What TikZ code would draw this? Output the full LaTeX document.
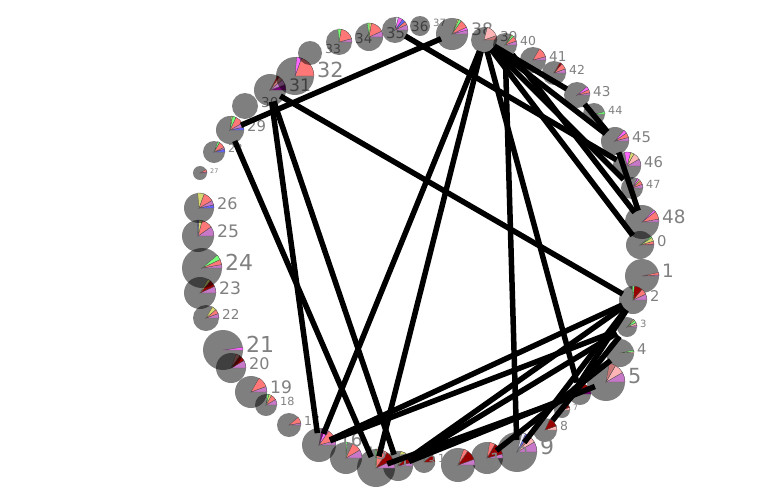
\documentclass[tikz,border=0pt]{standalone}
\usepackage{fontspec}
\setmainfont{DejaVu Sans}
\usetikzlibrary{calc}

\definecolor{wr}{HTML}{FF7777}
\definecolor{wv}{HTML}{C878C8}
\definecolor{wm}{HTML}{FF66FF}
\definecolor{wg}{HTML}{77FF77}
\definecolor{wy}{HTML}{D8D870}
\definecolor{wb}{HTML}{6666FF}
\definecolor{wd}{HTML}{990000}
\definecolor{ws}{HTML}{FFB5B5}
\definecolor{wk}{HTML}{C87878}
\definecolor{wp}{HTML}{770077}
\definecolor{ww}{HTML}{EEEEFF}

\tikzset{
  ring/.style={fill=black, fill opacity=0.5},
  wedge/.style={draw=black!70, line width=0.3pt},
  lbl/.style={text=black!50, inner sep=0pt, anchor=west},
  link/.style={line width=5.5pt, shorten <=12pt, shorten >=12pt},
}

% grey disc with pie slices and its number
\newcommand\pienode[5]{%
  \coordinate (n#1) at (#2,-#3);
  \fill[ring] (n#1) circle (#4);
  \foreach \a/\b/\c in {#5}{\filldraw[wedge, fill=\c] (n#1) -- ++(\a:#4) arc (\a:\b:#4) -- cycle;}
  \pgfmathsetmacro\fs{1.2*#4-2}
  \node[lbl, font=\fontsize{\fs}{\fs}\selectfont] (l#1) at ($(n#1)+(#4+3,0.3*#4)$) {#1};
}
\newcommand\plainnode[4]{%
  \coordinate (n#1) at (#2,-#3);
  \fill[ring] (n#1) circle (#4);
  \pgfmathsetmacro\fs{1.2*#4-2}
  \node[lbl, font=\fontsize{\fs}{\fs}\selectfont] (l#1) at ($(n#1)+(#4+3,0.3*#4)$) {#1};
}

\begin{document}
\begin{tikzpicture}[x=1pt, y=1pt]
\useasboundingbox (0,0) rectangle (764,-491);

\pienode{0}{640}{245}{14}{0/4/wv, 4/16/wr, 16/32/wy, 32/38/wg}
\pienode{1}{642}{276}{17}{0/4/wv, 4/12/wr}
\pienode{2}{633}{300}{14}{0/25/wv, 25/50/wr, 50/85/wd, 85/93/wg}
\pienode{3}{627}{327}{10}{0/10/wv, 10/25/ws, 25/42/wg, 42/50/wy}
\pienode{4}{620}{353}{14}{0/5/ws, 5/12/wg}
\pienode{5}{606}{382}{19}{0/30/wv, 30/60/ws, 60/80/wk}
\pienode{6}{580}{394}{11}{0/30/wp, 30/75/wd, 75/90/wm}
\pienode{7}{562}{410}{8}{0/20/ws, 20/70/wd}
\pienode{8}{545}{430}{12}{0/20/ws, 20/65/wd}
\pienode{9}{517}{452}{20}{0/30/wv, 30/45/ws, 45/55/wk, 55/65/wb, 65/75/ww}
\pienode{10}{487}{458}{16}{0/15/wv, 15/60/wd, 60/80/wr}
\pienode{11}{458}{465}{17}{0/20/wv, 20/55/wd, 55/70/wr}
\pienode{12}{424}{462}{11}{0/40/wd, 80/90/wg}
\pienode{13}{398}{466}{15}{0/15/wv, 15/45/wd, 60/80/wy}
\pienode{14}{376}{468}{19}{0/25/wv, 25/55/wd, 55/88/wr, 88/92/wg}
\pienode{15}{346}{458}{16}{0/30/wv, 30/65/wr, 85/90/wg}
\pienode{16}{319}{445}{17}{0/15/wv, 15/55/wr, 55/70/wm, 70/80/wp}
\pienode{17}{289}{425}{12}{0/10/wv, 10/40/wr}
\pienode{18}{266}{405}{11}{0/30/wv, 30/60/wr, 60/75/wy, 75/85/wg}
\pienode{19}{251}{392}{16}{0/20/wv, 20/60/wr}
\pienode{20}{231}{368}{15}{0/30/wv, 30/55/wd, 55/70/wk}
\pienode{21}{223}{350}{20}{0/8/wm}
\pienode{22}{206}{318}{13}{0/20/wv, 20/40/wr, 40/60/wy}
\pienode{23}{200}{293}{16}{0/25/wv, 25/50/wd, 50/60/wy}
\pienode{24}{202}{268}{20}{0/10/wv, 10/25/wr, 25/40/wg}
\pienode{25}{198}{236}{16}{0/35/wv, 35/75/wr, 75/88/wy, 88/92/wb}
\pienode{26}{199}{208}{15}{0/12/wb, 12/30/wv, 30/70/wr, 70/95/wy}
\pienode{27}{200}{173}{7}{0/10/wv, 10/30/wr}
\pienode{28}{214}{152}{11}{0/15/wb, 15/25/wv, 25/60/wr, 60/70/wg}
\pienode{29}{230}{130}{14}{0/12/wb, 12/30/wv, 30/65/wr, 65/80/wg, 80/85/wy}
\plainnode{30}{245}{106}{13}
\pienode{31}{270}{90}{16}{0/20/wp, 20/40/wv, 40/55/wk, 55/62/wd}
\pienode{32}{295}{76}{19}{0/70/wr, 70/85/wm}
\plainnode{33}{310}{53}{12}
\pienode{34}{339}{42}{13}{0/15/wv, 15/80/wr, 80/95/wg}
\pienode{35}{369}{37}{14}{0/25/wv, 25/80/wr, 80/90/wy, 90/98/wg}
\pienode{36}{395}{30}{13}{0/25/wv, 25/40/wr, 40/55/wb, 55/75/wm, 75/85/ww}
\plainnode{37}{420}{26}{10}
\pienode{38}{452}{34}{16}{0/15/wv, 15/25/wm, 25/55/wr, 55/65/wg, 65/70/wy}
\pienode{39}{484}{40}{13}{0/20/wk, 20/75/ws}
\pienode{40}{505}{45}{12}{0/20/wv, 20/45/wr, 45/55/wg, 55/60/wy}
\pienode{41}{533}{60}{13}{0/15/wv, 15/60/wr}
\pienode{42}{554}{73}{12}{0/20/wv, 20/50/wr, 50/60/wd}
\pienode{43}{577}{95}{13}{0/10/wv, 10/25/wr, 25/40/wm}
\pienode{44}{594}{114}{11}{0/12/wg}
\pienode{45}{615}{141}{14}{0/15/wv, 15/35/wr, 35/50/wm}
\pienode{46}{627}{166}{14}{0/30/wv, 30/60/ws, 60/75/wy, 75/100/wm}
\pienode{47}{632}{188}{11}{0/20/wv, 20/40/wr, 40/50/wy, 50/60/wm}
\pienode{48}{642}{222}{17}{0/10/wv, 10/38/wr, 38/45/wm}

% links
\foreach \s/\t in {29/38, 29/14, 31/2, 31/16, 31/13, 36/46, 39/0, 39/16, 39/14,
    39/6, 40/9, 39/43, 43/45, 39/45, 39/47, 40/48, 45/48, 16/2, 16/3, 13/2,
    13/3, 14/6, 13/5, 2/7, 3/8, 4/10, 2/9}
  \draw[link] (n\s) -- (n\t);
\end{tikzpicture}
\end{document}
